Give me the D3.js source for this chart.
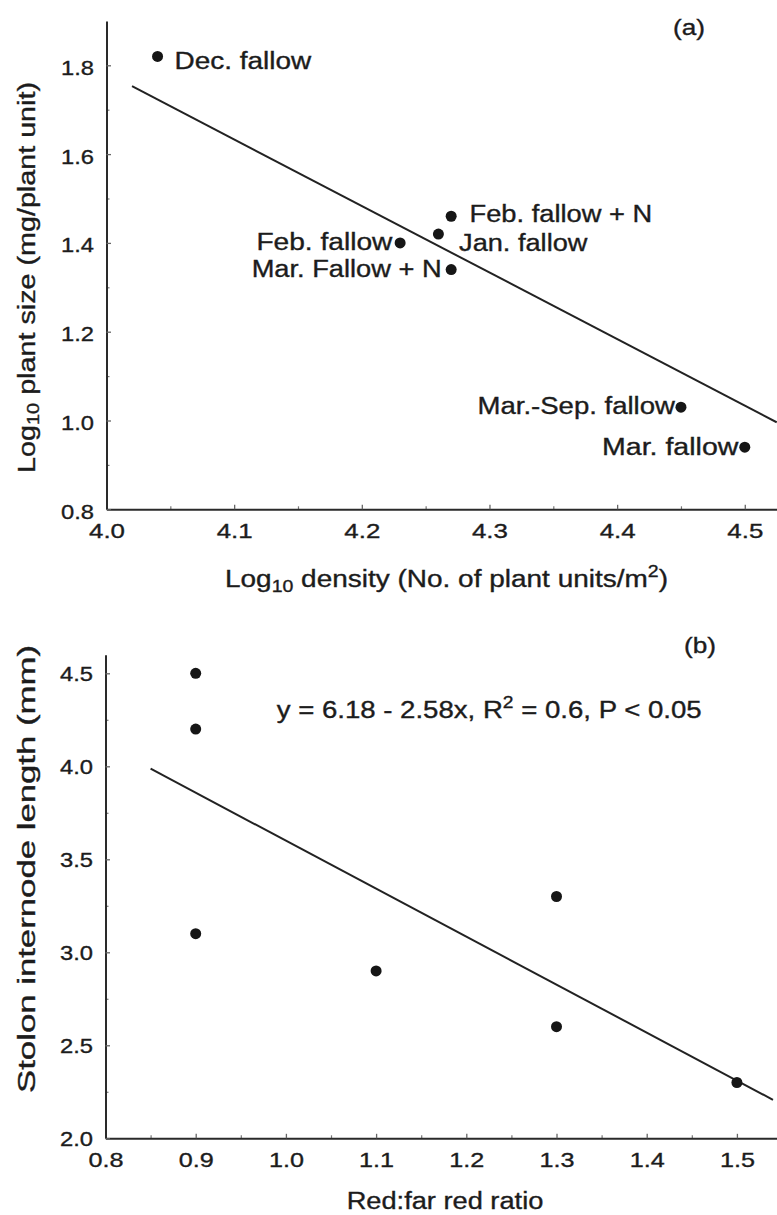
<!DOCTYPE html>
<html><head><meta charset="utf-8">
<script src="https://cdn.jsdelivr.net/npm/d3@7"></script>
<style>
body{margin:0;background:#fff}
svg{display:block}
text{font-family:"Liberation Sans",Arial,Helvetica,sans-serif;fill:#1c1c1c;stroke:#1c1c1c;stroke-width:0.35px}
</style>
</head><body><svg id="c" width="777" height="1215"></svg>
<script>
// ---------- Panel (a) data ----------
const aTreatments = ["Dec. fallow","Feb. fallow + N","Jan. fallow","Feb. fallow","Mar. Fallow + N","Mar.-Sep. fallow","Mar. fallow"];
const aDensity = [4.04, 4.27, 4.26, 4.23, 4.27, 4.45, 4.50];
const aSize = [1.82, 1.46, 1.42, 1.40, 1.34, 1.03, 0.94];
const aFitX = [4.02, 4.525];
const aFitY = [1.753, 0.996];
const aXTicks = [4.0, 4.1, 4.2, 4.3, 4.4, 4.5];
const aXTickLabels = ["4.0","4.1","4.2","4.3","4.4","4.5"];
const aXMinor = [4.05, 4.15, 4.25, 4.35, 4.45];
const aYTicks = [0.8, 1.0, 1.2, 1.4, 1.6, 1.8];
const aYTickLabels = ["0.8","1.0","1.2","1.4","1.6","1.8"];
const aYMinor = [0.9, 1.1, 1.3, 1.5, 1.7];

// ---------- Panel (b) data ----------
const bRatio = [0.9, 0.9, 0.9, 1.1, 1.3, 1.3, 1.5];
const bLength = [4.5, 4.2, 3.1, 2.9, 3.3, 2.6, 2.3];
const bFitX = [0.85, 1.54];
const bFitY = [3.987, 2.207];
const bXTicks = [0.8, 0.9, 1.0, 1.1, 1.2, 1.3, 1.4, 1.5];
const bXTickLabels = ["0.8","0.9","1.0","1.1","1.2","1.3","1.4","1.5"];
const bXMinor = [0.85, 0.95, 1.05, 1.15, 1.25, 1.35, 1.45];
const bYTicks = [2.0, 2.5, 3.0, 3.5, 4.0, 4.5];
const bYTickLabels = ["2.0","2.5","3.0","3.5","4.0","4.5"];
const bYMinor = [2.25, 2.75, 3.25, 3.75, 4.25];

// ---------- label placement (layout only) ----------
const aLabelPlace = [
  {dx:17, dy:12.3, anchor:"start", w:136.7},
  {dx:18.3, dy:6, anchor:"start", w:182.7},
  {dx:20.7, dy:17.4, anchor:"start", w:128.3},
  {dx:-7.7, dy:7.3, anchor:"end", w:136},
  {dx:-9.5, dy:7.3, anchor:"end", w:190},
  {dx:-6, dy:7.3, anchor:"end", w:197.4},
  {dx:-6.4, dy:7.6, anchor:"end", w:136.4}
];

const svg = d3.select("#c");
const INK = "#1c1c1c";

function fit(sel, w){ sel.attr("textLength", w).attr("lengthAdjust","spacingAndGlyphs"); return sel; }

function drawPanel(cfg){
  const x = d3.scaleLinear().domain(cfg.xDomain).range(cfg.xRange);
  const y = d3.scaleLinear().domain(cfg.yDomain).range(cfg.yRange);
  const g = svg.append("g");
  const y0 = cfg.yRange[0], x0 = cfg.xRange[0];

  // minor ticks
  const mx = g.append("g").attr("transform",`translate(0,${y0})`)
    .call(d3.axisBottom(x).tickValues(cfg.xMinor).tickSize(-3).tickFormat(""));
  mx.select(".domain").remove();
  const my = g.append("g").attr("transform",`translate(${x0},0)`)
    .call(d3.axisLeft(y).tickValues(cfg.yMinor).tickSize(-3).tickFormat(""));
  my.select(".domain").remove();
  g.selectAll(".tick line").attr("stroke","#777").attr("stroke-width",1.2);

  // major axes
  const ax = g.append("g").attr("transform",`translate(0,${y0})`)
    .call(d3.axisBottom(x).tickValues(cfg.xTicks).tickSize(-4.5).tickSizeOuter(0)
      .tickFormat((d,i)=>cfg.xTickLabels[i]));
  ax.selectAll("text").attr("y", cfg.xLabBase).attr("dy",0)
    .attr("font-size",21).attr("fill",INK).style("font-family",'"Liberation Sans",Arial,sans-serif');
  ax.selectAll("text").each(function(){ fit(d3.select(this), cfg.xLabW); });
  const ay = g.append("g").attr("transform",`translate(${x0},0)`)
    .call(d3.axisLeft(y).tickValues(cfg.yTicks).tickSize(-4.5).tickSizeOuter(0)
      .tickFormat((d,i)=>cfg.yTickLabels[i]));
  ay.selectAll("text").attr("x",-12.5).attr("dy",cfg.yLabDy)
    .attr("font-size",cfg.yLabFs).attr("fill",INK).style("font-family",'"Liberation Sans",Arial,sans-serif');
  ay.selectAll("text").each(function(){ fit(d3.select(this), cfg.yLabW); });
  [ax,ay].forEach(a=>{
    a.select(".domain").attr("stroke","#2a2a2a").attr("stroke-width",2);
    a.selectAll(".tick line").attr("stroke","#666").attr("stroke-width",1.3);
  });

  // regression line
  const line = d3.line().x(d=>x(d[0])).y(d=>y(d[1]));
  g.append("path").datum(cfg.fitX.map((v,i)=>[v,cfg.fitY[i]]))
    .attr("d",line).attr("fill","none").attr("stroke","#222").attr("stroke-width",2);

  // points
  g.selectAll("circle.pt").data(cfg.xs.map((v,i)=>[v,cfg.ys[i]])).join("circle")
    .attr("class","pt").attr("cx",d=>x(d[0])).attr("cy",d=>y(d[1])).attr("r",5.5).attr("fill","#161616");

  return {x,y,g};
}

// ---------- Panel (a) ----------
const A = drawPanel({
  xDomain:[4.0,4.525], xRange:[106.5,776.7],
  yDomain:[0.8,1.9], yRange:[509.3,20.9],
  xTicks:aXTicks, xTickLabels:aXTickLabels, xMinor:aXMinor,
  yTicks:aYTicks, yTickLabels:aYTickLabels, yMinor:aYMinor,
  xLabBase:29, xLabW:36, yLabDy:9, yLabFs:21, yLabW:33,
  fitX:aFitX, fitY:aFitY, xs:aDensity, ys:aSize
});
A.g.selectAll("text.ptlab").data(aTreatments).join("text").attr("class","ptlab")
  .attr("x",(d,i)=>A.x(aDensity[i])+aLabelPlace[i].dx)
  .attr("y",(d,i)=>A.y(aSize[i])+aLabelPlace[i].dy)
  .attr("text-anchor",(d,i)=>aLabelPlace[i].anchor)
  .attr("font-size",23)
  .text(d=>d)
  .each(function(d,i){ fit(d3.select(this), aLabelPlace[i].w); });

fit(svg.append("text").attr("x",689).attr("y",35).attr("text-anchor","middle").attr("font-size",22).text("(a)"),32);

// x title (a)
const axT = svg.append("text").attr("x",446.5).attr("y",586.7).attr("text-anchor","middle").attr("font-size",23);
axT.append("tspan").text("Log");
axT.append("tspan").attr("font-size",16).attr("dy",5).text("10");
axT.append("tspan").attr("dy",-5).text(" density (No. of plant units/m");
axT.append("tspan").attr("font-size",16).attr("dy",-10).text("2");
axT.append("tspan").attr("dy",10).text(")");
fit(axT,443);

// y title (a)
const ayT = svg.append("text").attr("transform","translate(35,277.5) rotate(-90)").attr("text-anchor","middle").attr("font-size",23);
ayT.append("tspan").text("Log");
ayT.append("tspan").attr("font-size",16).attr("dy",4).text("10");
ayT.append("tspan").attr("dy",-4).text(" plant size (mg/plant unit)");
fit(ayT,391);

// ---------- Panel (b) ----------
const B = drawPanel({
  xDomain:[0.8,1.545], xRange:[105.5,777.5],
  yDomain:[2.0,4.6], yRange:[1138.3,654.7],
  xTicks:bXTicks, xTickLabels:bXTickLabels, xMinor:bXMinor,
  yTicks:bYTicks, yTickLabels:bYTickLabels, yMinor:bYMinor,
  xLabBase:28.5, xLabW:35, yLabDy:7, yLabFs:20.5, yLabW:33,
  fitX:bFitX, fitY:bFitY, xs:bRatio, ys:bLength
});

fit(svg.append("text").attr("x",700).attr("y",653).attr("text-anchor","middle").attr("font-size",22).text("(b)"),32);

const eq = svg.append("text").attr("x",276.7).attr("y",718.3).attr("font-size",23);
eq.append("tspan").text("y = 6.18 - 2.58x, R");
eq.append("tspan").attr("font-size",16).attr("dy",-10).text("2");
eq.append("tspan").attr("dy",10).text(" = 0.6, P < 0.05");
fit(eq,425);

fit(svg.append("text").attr("x",445).attr("y",1209).attr("text-anchor","middle").attr("font-size",23).text("Red:far red ratio"),196.7);

fit(svg.append("text").attr("transform","translate(35,869) rotate(-90)").attr("text-anchor","middle").attr("font-size",23)
  .text("Stolon internode length (mm)"),448);
</script>
</body></html>
